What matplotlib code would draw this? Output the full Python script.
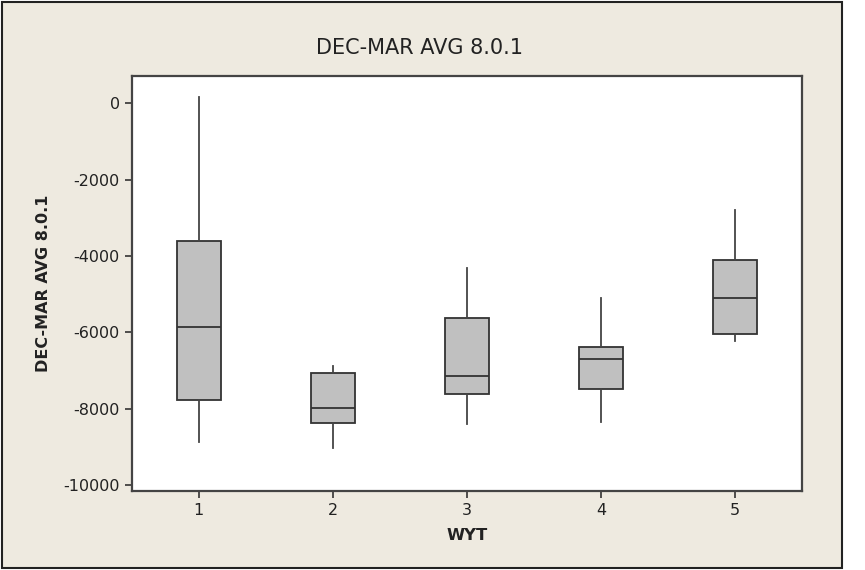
import matplotlib.pyplot as plt
from matplotlib.patches import Rectangle

plt.rcParams['axes.unicode_minus'] = False
plt.rcParams['font.family'] = 'DejaVu Sans'

wyt = [1, 2, 3, 4, 5]
whisker_lo = [-8870, -9030, -8390, -8345, -6220]
q1 = [-7765, -8375, -7600, -7485, -6035]
median = [-5850, -7980, -7140, -6695, -5110]
q3 = [-3600, -7070, -5625, -6390, -4095]
whisker_hi = [160, -6870, -4315, -5110, -2785]
yticks = [0, -2000, -4000, -6000, -8000, -10000]

stats = []
for i in range(len(wyt)):
    stats.append({
        'whislo': whisker_lo[i], 'q1': q1[i], 'med': median[i],
        'q3': q3[i], 'whishi': whisker_hi[i], 'fliers': [],
    })

fig = plt.figure(figsize=(8.65, 5.7), dpi=100, facecolor='white')
# beige panel with a dark frame, kept behind the axes
fig.patches.append(Rectangle((2 / 865, 2 / 570), 840 / 865, 566 / 570,
                             transform=fig.transFigure, facecolor='#EEEAE0',
                             edgecolor='#222222', linewidth=1.5, zorder=-5))

ax = fig.add_axes([131.7 / 865, 1 - 491.3 / 570, 670.6 / 865, 415.6 / 570])
ax.set_zorder(1)
ax.set_facecolor('white')
ax.bxp(stats, positions=wyt, widths=0.33, showcaps=False, patch_artist=True,
       boxprops=dict(facecolor='#C0C0C0', edgecolor='#333333', linewidth=1.3),
       medianprops=dict(color='#333333', linewidth=1.3),
       whiskerprops=dict(color='#444444', linewidth=1.3))

ax.set_xlim(0.5, 5.5)
ax.set_ylim(-10157, 722)
ax.set_xticks(wyt)
ax.set_xticklabels([str(w) for w in wyt])
ax.set_yticks(yticks)
ax.set_yticklabels([str(t) for t in yticks])
ax.tick_params(direction='out', length=5, width=1.2, color='#333333',
               labelsize=11.5, labelcolor='#222222')
for s in ax.spines.values():
    s.set_color('#444444')
    s.set_linewidth(1.6)

ax.set_xlabel('WYT', fontsize=11.8, fontweight='bold', color='#222222', labelpad=7)
ax.set_ylabel('DEC-MAR AVG 8.0.1', fontsize=11.5, fontweight='bold',
              color='#222222', labelpad=9)
fig.text(420 / 865, 1 - 48 / 570, 'DEC-MAR AVG 8.0.1', ha='center', va='center',
         fontsize=15, color='#222222')

fig.savefig('out.png', dpi=100, facecolor=fig.get_facecolor())
